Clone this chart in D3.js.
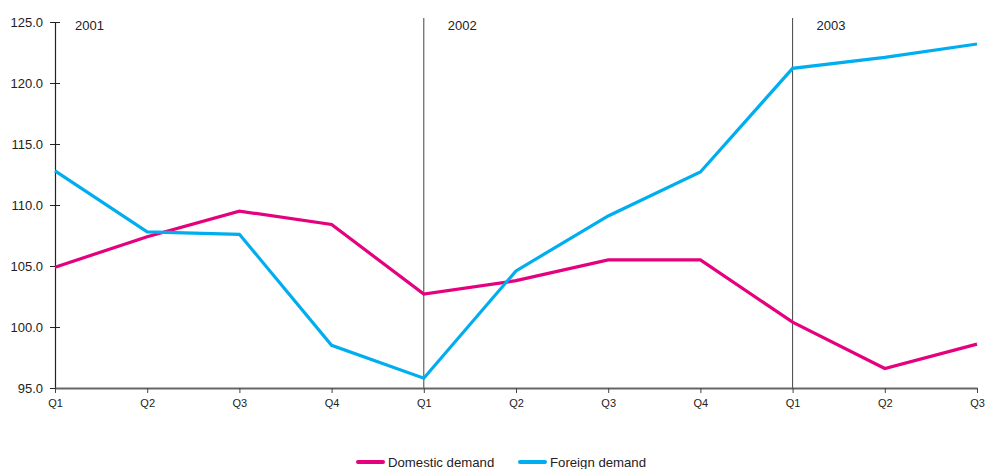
<!DOCTYPE html>
<html>
<head>
<meta charset="utf-8">
<script src="https://cdn.jsdelivr.net/npm/d3@7/dist/d3.min.js"></script>
<style>
  body { margin: 0; background: #fff; }
  svg text { font-family: "Liberation Sans", Arial, sans-serif; fill: #222; }
</style>
</head>
<body>
<svg id="chart" width="986" height="469"></svg>
<script>
// Quarterly index values, Q1 2001 – Q3 2003
const quarters = ["Q1", "Q2", "Q3", "Q4", "Q1", "Q2", "Q3", "Q4", "Q1", "Q2", "Q3"];
const domesticDemand = [104.9, 107.4, 109.5, 108.4, 102.7, 103.8, 105.5, 105.5, 100.4, 96.6, 98.6];
const foreignDemand = [112.8, 107.8, 107.6, 98.5, 95.8, 104.6, 109.1, 112.7, 121.2, 122.1, 123.2];
const years = [{ label: "2001", index: 0 }, { label: "2002", index: 4 }, { label: "2003", index: 8 }];
const yTicks = [95, 100, 105, 110, 115, 120, 125];
const seriesNames = ["Domestic demand", "Foreign demand"];
const seriesColors = ["#e5007d", "#00aeef"];

const svg = d3.select("#chart");
const margin = { left: 55, right: 9, top: 22, bottom: 81 };
const W = 986, H = 469;

const x = d3.scaleLinear().domain([0, quarters.length - 1]).range([margin.left, W - margin.right]);
const y = d3.scaleLinear().domain([95, 125]).range([H - margin.bottom, margin.top]);

// Year separators
svg.append("g").selectAll("line")
  .data(years.filter(d => d.index > 0))
  .join("line")
  .attr("x1", d => x(d.index)).attr("x2", d => x(d.index))
  .attr("y1", 18).attr("y2", y(95))
  .attr("stroke", "#444").attr("stroke-width", 1);

svg.append("g").selectAll("text")
  .data(years)
  .join("text")
  .attr("x", d => x(d.index) + (d.index > 0 ? 24 : 20))
  .attr("y", 30)
  .attr("font-size", 13)
  .text(d => d.label);

// Y axis
const yAxis = svg.append("g")
  .attr("transform", `translate(${margin.left},0)`)
  .call(d3.axisLeft(y).tickValues(yTicks).tickFormat(d3.format(".1f")).tickSize(5).tickSizeOuter(0));
yAxis.select(".domain").attr("stroke", "#222").attr("stroke-width", 1.2);
yAxis.selectAll(".tick line").attr("x2", 5).attr("x1", -5).attr("stroke", "#222");
yAxis.selectAll(".tick text").attr("x", -12).attr("font-size", 13).attr("fill", "#222")
  .style("font-family", "'Liberation Sans', Arial, sans-serif");

// X axis
const xAxis = svg.append("g")
  .attr("transform", `translate(0,${y(95)})`)
  .call(d3.axisBottom(x).tickValues(d3.range(quarters.length)).tickFormat(i => quarters[i]).tickSize(5).tickSizeOuter(0));
xAxis.select(".domain").attr("stroke", "#666").attr("stroke-width", 2);
xAxis.selectAll(".tick line").attr("stroke", "#444");
xAxis.selectAll(".tick text").attr("y", 11).attr("font-size", 11).attr("fill", "#222")
  .style("font-family", "'Liberation Sans', Arial, sans-serif");

// Series lines
const line = d3.line().x((d, i) => x(i)).y(d => y(d));
[domesticDemand, foreignDemand].forEach((vals, k) => {
  svg.append("path")
    .datum(vals)
    .attr("d", line)
    .attr("fill", "none")
    .attr("stroke", seriesColors[k])
    .attr("stroke-width", 3.2)
    .attr("stroke-linejoin", "miter");
});

// Legend
const legendX = [358, 520];
const lg = svg.append("g").selectAll("g").data(seriesNames).join("g")
  .attr("transform", (d, i) => `translate(${legendX[i]},462)`);
lg.append("line").attr("x1", 0).attr("x2", 25).attr("y1", 0).attr("y2", 0)
  .attr("stroke", (d, i) => seriesColors[i]).attr("stroke-width", 4).attr("stroke-linecap", "round");
lg.append("text").attr("x", 30).attr("y", 5).attr("font-size", 13.2).text(d => d);
</script>
</body>
</html>
